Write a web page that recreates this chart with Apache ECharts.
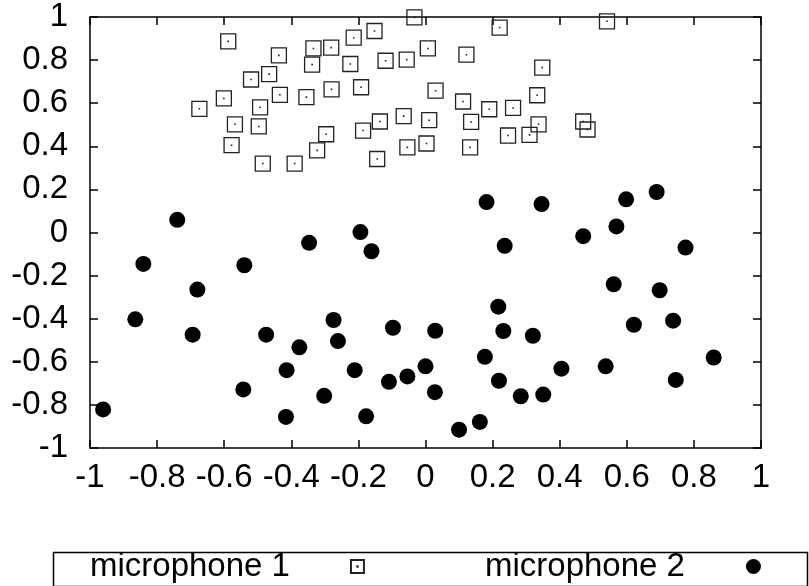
<!DOCTYPE html>
<html><head><meta charset="utf-8">
<script src="https://cdn.jsdelivr.net/npm/echarts@6/dist/echarts.min.js"></script>
<style>html,body{margin:0;padding:0;background:#fff}#c{width:809px;height:586px}</style>
</head><body><div id="c"></div>
<script>
const seriesNames = ['microphone 1', 'microphone 2'];
const mic1X = [-0.588,-0.437,-0.334,-0.281,-0.338,-0.466,-0.520,-0.434,-0.355,-0.280,-0.601,-0.674,-0.493,-0.568,-0.497,-0.296,-0.323,-0.578,-0.485,-0.390,
  -0.033,-0.214,-0.152,-0.224,-0.119,-0.056,0.007,0.122,0.221,0.541,0.348,0.333,-0.192,0.030,0.112,0.190,0.261,-0.065,0.011,-0.136,-0.186,0.136,0.337,0.470,0.483,0.246,0.310,-0.054,0.003,0.133,-0.144];
const mic1Y = [0.887,0.822,0.854,0.858,0.779,0.735,0.710,0.639,0.628,0.664,0.622,0.574,0.581,0.502,0.492,0.456,0.381,0.405,0.320,0.320,
  0.998,0.904,0.935,0.782,0.797,0.802,0.854,0.825,0.951,0.980,0.765,0.637,0.674,0.658,0.608,0.572,0.578,0.540,0.521,0.515,0.473,0.513,0.502,0.515,0.478,0.450,0.453,0.395,0.413,0.395,0.341];
const mic2X = [-0.740,-0.347,-0.841,-0.540,-0.680,-0.194,-0.161,0.182,0.346,0.598,0.689,0.236,0.470,0.569,0.775,0.561,0.698,0.217,
  -0.865,-0.694,-0.475,-0.376,-0.274,-0.261,-0.414,-0.543,-0.302,-0.416,-0.961,
  -0.211,-0.097,0.029,0.232,0.320,0.621,0.738,0.859,0.177,0.000,-0.054,-0.109,0.028,0.219,0.284,0.351,0.405,0.537,0.746,-0.177,0.100,0.162];
const mic2Y = [0.059,-0.048,-0.146,-0.152,-0.265,0.002,-0.087,0.141,0.132,0.154,0.188,-0.062,-0.017,0.028,-0.070,-0.240,-0.268,-0.344,
  -0.403,-0.474,-0.474,-0.533,-0.406,-0.504,-0.639,-0.728,-0.758,-0.856,-0.821,
  -0.639,-0.442,-0.456,-0.457,-0.479,-0.428,-0.409,-0.580,-0.577,-0.621,-0.668,-0.693,-0.741,-0.688,-0.760,-0.752,-0.632,-0.621,-0.684,-0.853,-0.915,-0.879];

const FONT = 'Liberation Sans';
const FS = 33;
const chart = echarts.init(document.getElementById('c'), null, {renderer: 'canvas'});
const fmt = v => { const r = +(+v).toFixed(1); return r === 0 ? '0' : String(r); };
const axisCommon = {
  type: 'value', min: -1, max: 1, interval: 0.2,
  axisLine: {show: true, onZero: false, lineStyle: {color: '#000', width: 1.5}},
  axisTick: {show: true, inside: true, length: 8, lineStyle: {color: '#000', width: 1.5}},
  splitLine: {show: false}
};
const sqPath = 'path://M0,0 L20,0 L20,20 L0,20 Z M9.8,9.8 L10.2,9.8 L10.2,10.2 L9.8,10.2 Z';
chart.setOption({
  animation: false,
  backgroundColor: '#fff',
  grid: {left: 90, right: 48, top: 17, bottom: 138},
  xAxis: [
    Object.assign({}, axisCommon, {position: 'bottom', axisLabel: {show: true, color: '#000', fontFamily: FONT, fontSize: FS, margin: 13, formatter: fmt}}),
    Object.assign({}, axisCommon, {position: 'top', axisLabel: {show: false}})
  ],
  yAxis: [
    Object.assign({}, axisCommon, {position: 'left', axisLabel: {show: true, color: '#000', fontFamily: FONT, fontSize: FS, margin: 22, formatter: fmt}}),
    Object.assign({}, axisCommon, {position: 'right', axisLabel: {show: false}})
  ],
  legend: [
    {data: [seriesNames[0]], left: 90, top: 550, padding: 0, align: 'right', itemWidth: 13, itemHeight: 13,
     textStyle: {color: '#000', fontFamily: FONT, fontSize: FS, padding: [0, 56, 0, 0]}},
    {data: [seriesNames[1]], left: 485, top: 550, padding: 0, align: 'right', itemWidth: 15, itemHeight: 15,
     textStyle: {color: '#000', fontFamily: FONT, fontSize: FS, padding: [0, 56, 0, 0]}}
  ],
  graphic: [{type: 'rect', left: 51, top: 550, shape: {width: 754, height: 34}, style: {fill: 'none', stroke: '#000', lineWidth: 1.5}, silent: true}],
  series: [
    {name: seriesNames[0], type: 'scatter', xAxisIndex: 0, yAxisIndex: 0, symbol: sqPath, symbolSize: 15,
     itemStyle: {color: 'rgba(0,0,0,0)', borderColor: '#222', borderWidth: 1.3, opacity: 1},
     data: mic1X.map((x, i) => [x, mic1Y[i]])},
    {name: seriesNames[1], type: 'scatter', xAxisIndex: 0, yAxisIndex: 0, symbol: 'circle', symbolSize: 16,
     itemStyle: {color: '#000', opacity: 1},
     data: mic2X.map((x, i) => [x, mic2Y[i]])}
  ]
});
</script></body></html>
